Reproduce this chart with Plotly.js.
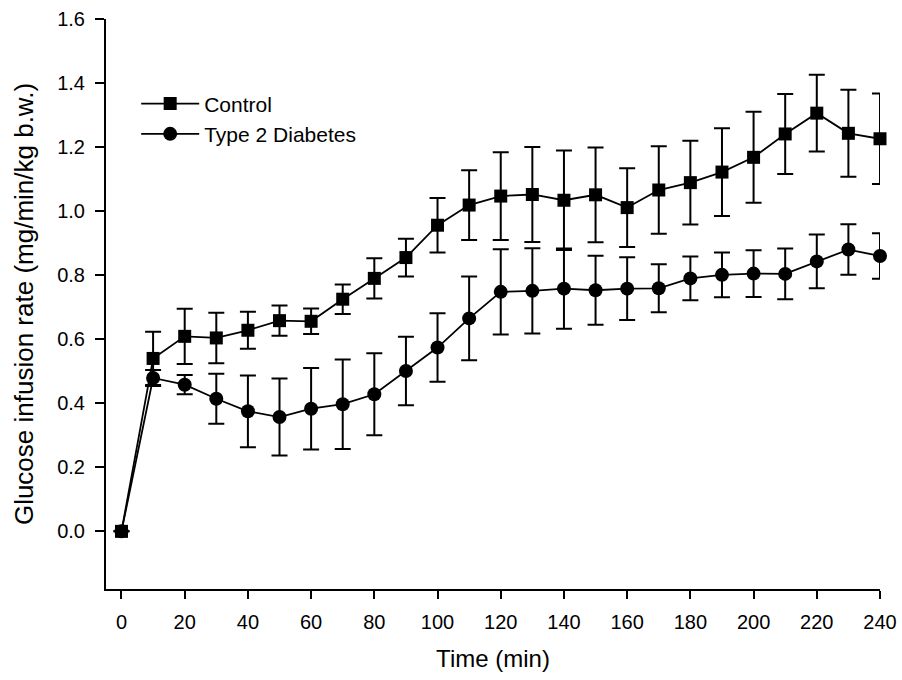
<!DOCTYPE html>
<html>
<head>
<meta charset="utf-8">
<script src="https://cdn.plot.ly/plotly-3.0.1.min.js"></script>
<style>html,body{margin:0;padding:0;background:#fff;}#chart{width:902px;height:680px;}</style>
</head>
<body>
<div id="chart"></div>
<script>
// Time points (min)
const timeMin = [0,10,20,30,40,50,60,70,80,90,100,110,120,130,140,150,160,170,180,190,200,210,220,230,240];

// Control: glucose infusion rate (mg/min/kg b.w.) and SEM
const controlGIR = [0,0.540,0.609,0.604,0.628,0.658,0.656,0.725,0.790,0.855,0.956,1.019,1.047,1.052,1.034,1.051,1.011,1.066,1.089,1.122,1.168,1.241,1.306,1.243,1.226];
const controlSEM = [0,0.083,0.086,0.079,0.058,0.047,0.040,0.046,0.063,0.059,0.085,0.109,0.137,0.148,0.155,0.148,0.123,0.137,0.131,0.137,0.142,0.125,0.120,0.136,0.141];

// Type 2 Diabetes: glucose infusion rate and SEM
const t2dGIR = [0,0.479,0.458,0.414,0.375,0.357,0.383,0.397,0.428,0.501,0.574,0.665,0.748,0.751,0.758,0.753,0.758,0.759,0.790,0.801,0.805,0.804,0.843,0.880,0.860];
const t2dSEM = [0,0.025,0.030,0.078,0.112,0.120,0.127,0.140,0.128,0.107,0.107,0.131,0.133,0.133,0.125,0.108,0.098,0.075,0.068,0.070,0.073,0.079,0.084,0.079,0.071];

const xTicks = [0,20,40,60,80,100,120,140,160,180,200,220,240];
const yTicks = [0,0.2,0.4,0.6,0.8,1.0,1.2,1.4,1.6];
const yTickText = ['0.0','0.2','0.4','0.6','0.8','1.0','1.2','1.4','1.6'];

const FONT = '"Liberation Sans", Arial, sans-serif';

const errStyle = {type:'data', visible:true, color:'#000', thickness:2, width:8};

const traces = [
  {
    name:'Type 2 Diabetes', x:timeMin, y:t2dGIR, type:'scatter', mode:'lines+markers',
    cliponaxis:false,
    line:{color:'#000', width:1.8},
    marker:{symbol:'circle', size:14, color:'#000'},
    error_y:Object.assign({array:t2dSEM}, errStyle)
  },
  {
    name:'Control', x:timeMin, y:controlGIR, type:'scatter', mode:'lines+markers',
    cliponaxis:false,
    line:{color:'#000', width:1.8},
    marker:{symbol:'square', size:13, color:'#000'},
    error_y:Object.assign({array:controlSEM}, errStyle)
  }
];

const layout = {
  width:902, height:680,
  paper_bgcolor:'#fff', plot_bgcolor:'#fff',
  margin:{l:106, r:22, t:19, b:91},
  font:{family:FONT, color:'#000'},
  showlegend:true,
  legend:{
    x:0.039, y:0.887, xanchor:'left', yanchor:'top',
    traceorder:'reversed', bgcolor:'rgba(0,0,0,0)',
    font:{family:FONT, size:21, color:'#000'},
    itemwidth:58, tracegroupgap:0
  },
  xaxis:{
    range:[-4.9,240], tickvals:xTicks, ticktext:xTicks.map(String),
    showline:true, linecolor:'#000', linewidth:2, mirror:false,
    ticks:'outside', ticklen:8, tickwidth:2, tickcolor:'#000',
    showgrid:false, zeroline:false,
    tickfont:{family:FONT, size:20, color:'#000'},
    ticklabelstandoff:6,
    title:{text:'Time (min)', font:{family:FONT, size:24, color:'#000'}, standoff:18}
  },
  yaxis:{
    range:[-0.18,1.6], tickvals:yTicks, ticktext:yTickText,
    showline:true, linecolor:'#000', linewidth:2, mirror:false,
    ticks:'outside', ticklen:9, tickwidth:2, tickcolor:'#000',
    showgrid:false, zeroline:false,
    tickfont:{family:FONT, size:20, color:'#000'},
    ticklabelstandoff:6,
    title:{text:'Glucose infusion rate (mg/min/kg b.w.)', font:{family:FONT, size:26, color:'#000'}, standoff:16}
  }
};

Plotly.newPlot('chart', traces, layout, {displayModeBar:false, staticPlot:true});
</script>
</body>
</html>
